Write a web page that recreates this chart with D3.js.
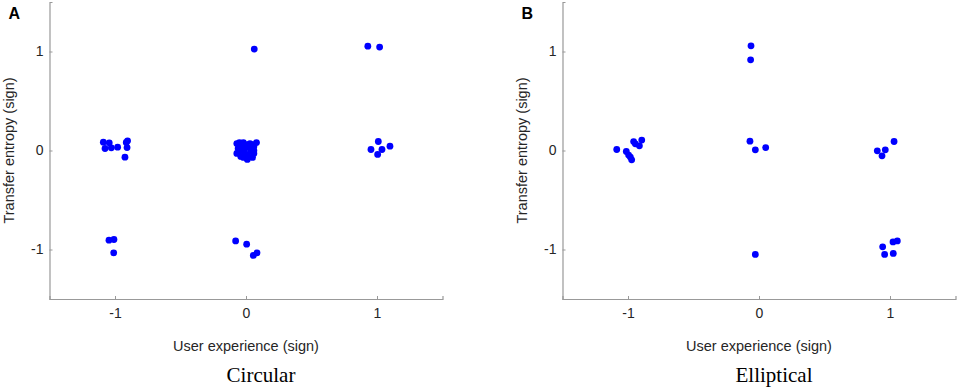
<!DOCTYPE html>
<html>
<head>
<meta charset="utf-8">
<script src="https://cdn.jsdelivr.net/npm/d3@7"></script>
<style>
  body { margin: 0; background: #fff; }
  svg text { font-family: "Liberation Sans", Arial, sans-serif; }
</style>
</head>
<body>
<div id="chart"></div>
<script>
// data (sign values with jitter)
const xTicks = [-1, 0, 1];
const yTicks = [-1, 0, 1];

const circularX = [
  0.063, 0.93, 1.02,
  -1.089, -1.044, -1.076, -1.028, -0.980, -0.924, -0.914, -0.904, -0.908,
  -0.07, -0.05, -0.02, 0.0, 0.03, 0.05, 0.08, -0.07, -0.04, 0.01, 0.05, 0.06,
  0.06, -0.02, -0.04, 0.01, -0.01, 0.04, -0.06, -0.03, 0.02, 0.06, -0.02, 0.03,
  1.01, 0.954, 1.005, 1.038, 1.099,
  -1.046, -1.008, -1.01,
  -0.079, 0.005, 0.056, 0.084
];
const circularY = [
  1.024, 1.054, 1.045,
  0.084, 0.078, 0.02, 0.027, 0.034, -0.067, 0.081, 0.098, 0.03,
  0.07, 0.08, 0.08, 0.06, 0.05, 0.06, 0.08, -0.03, -0.06, -0.09, -0.07, 0.0,
  0.04, 0.02, 0.0, -0.05, -0.02, -0.01, 0.02, 0.05, 0.03, -0.03, -0.07, 0.07,
  0.091, 0.01, -0.04, 0.01, 0.044,
  -0.906, -0.899, -1.034,
  -0.913, -0.946, -1.06, -1.034
];

const ellipticalX = [
  -0.061, -0.064, -0.069, -0.028, 0.051, -0.028,
  -1.086, -1.013, -0.995, -0.972, -0.957, -0.944, -0.913, -0.895, -0.982,
  0.903, 0.939, 0.964, 1.031,
  0.944, 0.959, 1.023, 1.056, 1.025
];
const ellipticalY = [
  1.057, 0.916, 0.094, 0.007, 0.03, -1.05,
  0.01, -0.01, -0.046, -0.094, 0.09, 0.067, 0.047, 0.105, -0.066,
  -0.003, -0.054, 0.007, 0.091,
  -0.973, -1.05, -0.923, -0.913, -1.04
];

const panels = [
  {letter: "A", title: "Circular", xs: circularX, ys: circularY, left: 49.5},
  {letter: "B", title: "Elliptical", xs: ellipticalX, ys: ellipticalY, left: 562.5}
];

const width = 957, height = 389;
const plotW = 393, plotTop = 2, plotBottom = 299;
const axisColor = "#999999", textColor = "#262626";

const svg = d3.select("#chart").append("svg")
    .attr("width", width)
    .attr("height", height);

panels.forEach(p => {
    let g = svg.append("g");

    let x = d3.scaleLinear().domain([-1.5, 1.5]).range([p.left, p.left + plotW]);
    let y = d3.scaleLinear().domain([-1.5, 1.5]).range([plotBottom, plotTop]);

    // x axis
    let xAxis = g.append("g")
        .attr("transform", `translate(0,${plotBottom})`)
        .call(d3.axisBottom(x).tickValues(xTicks).tickSize(-3).tickPadding(9).tickFormat(d3.format("d")));
    // y axis
    let yAxis = g.append("g")
        .attr("transform", `translate(${p.left},0)`)
        .call(d3.axisLeft(y).tickValues(yTicks).tickSize(-3).tickPadding(6).tickFormat(d3.format("d")));

    [xAxis, yAxis].forEach(a => {
        a.select(".domain").attr("stroke", axisColor).attr("stroke-width", 1.2);
        a.selectAll(".tick line").attr("stroke", axisColor);
        a.selectAll(".tick text")
            .attr("fill", textColor)
            .style("font-size", "14px")
            .text(d => d < 0 ? "-" + Math.abs(d) : d);
    });

    // axis titles
    g.append("text")
        .attr("x", x(0))
        .attr("y", 351)
        .attr("text-anchor", "middle")
        .attr("fill", textColor)
        .style("font-size", "14.5px")
        .text("User experience (sign)");

    g.append("text")
        .attr("transform", `translate(${p.left - 36},${y(0)}) rotate(-90)`)
        .attr("text-anchor", "middle")
        .attr("fill", textColor)
        .style("font-size", "14.5px")
        .text("Transfer entropy (sign)");

    // panel letter
    g.append("text")
        .attr("x", p.left - 41)
        .attr("y", 19)
        .attr("fill", "#000")
        .style("font-size", "16px")
        .style("font-weight", "bold")
        .text(p.letter);

    // caption under the plot
    g.append("text")
        .attr("x", x(0) + 15)
        .attr("y", 382)
        .attr("text-anchor", "middle")
        .attr("fill", "#000")
        .style("font-family", "'Liberation Serif', 'Times New Roman', serif")
        .style("font-size", "21px")
        .text(p.title);

    // points
    g.selectAll("circle")
        .data(p.xs.map((d, i) => ({x: d, y: p.ys[i]})))
        .enter().append("circle")
        .attr("cx", d => x(d.x))
        .attr("cy", d => y(d.y))
        .attr("r", 3.4)
        .attr("fill", "#0000ff");
});
</script>
</body>
</html>
